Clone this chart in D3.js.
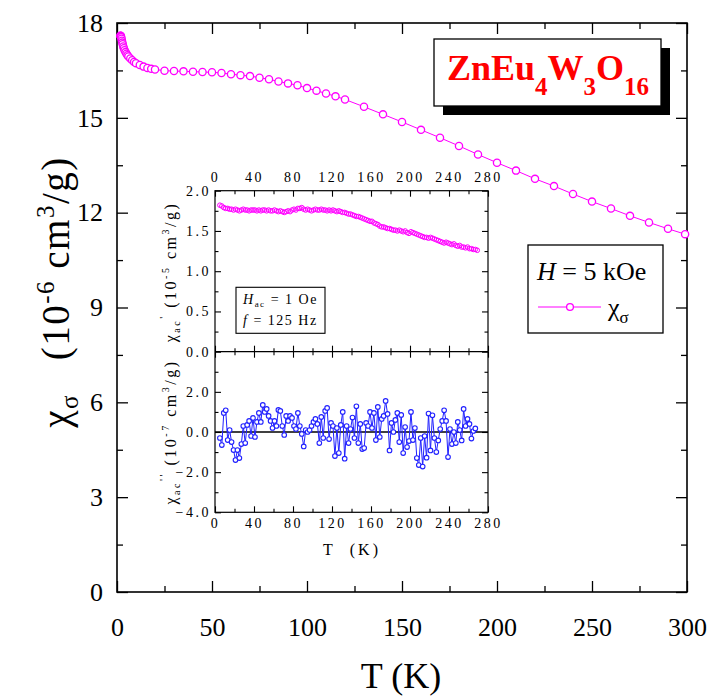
<!DOCTYPE html>
<html><head><meta charset="utf-8">
<script src="https://cdn.jsdelivr.net/npm/d3@7"></script>
<style>
body{margin:0;background:#fff}
svg{display:block}
text{font-family:"Liberation Serif","Times New Roman",serif;fill:#000}
</style>
</head><body>
<svg id="c" width="710" height="698"></svg>
<script>
// ---------- DATA ----------
const mainT = [1.8,1.9,2.0,2.1,2.2,2.4,2.6,2.8,3.0,3.3,3.6,4.0,4.5,5.0,5.5,6.0,7.0,8.0,9.0,10,12,14,16,18,
  20,25,30,35,40,45,50,55,60,65,70,75,80,85,90,95,100,105,110,115,120,
  130,140,150,160,170,180,190,200,210,220,230,240,250,260,270,280,290,299];
const mainChi = [17.60,17.60,17.59,17.57,17.55,17.50,17.44,17.38,17.33,17.26,17.20,17.14,17.08,17.03,16.98,16.94,16.88,16.82,16.77,16.73,16.67,16.62,16.58,16.55,
  16.53,16.49,16.48,16.47,16.46,16.45,16.44,16.42,16.38,16.35,16.32,16.27,16.22,16.15,16.09,16.03,15.94,15.86,15.77,15.68,15.58,
  15.35,15.11,14.87,14.62,14.37,14.11,13.84,13.58,13.33,13.07,12.84,12.59,12.35,12.13,11.90,11.69,11.49,11.32];

const acT = [5,7,9,11,13,15,17,19,21,23,25,27,29,31,33,35,37,39,41,43,45,47,49,51,53,55,57,59,61,63,65,67,69,71,73,75,77,79,81,83,85,87,89,91,93,95,97,99,
  101,103,105,107,109,111,113,115,117,119,121,123,125,127,129,131,133,135,137,139,141,143,145,147,149,151,153,155,157,159,161,163,165,167,169,171,173,175,177,179,
  181,183,185,187,189,191,193,195,197,199,201,203,205,207,209,211,213,215,217,219,221,223,225,227,229,231,233,235,237,239,241,243,245,247,249,251,253,255,257,259,261,263,265,267,269];
const acReal = [1.82,1.81,1.79,1.78,1.78,1.77,1.77,1.76,1.77,1.76,1.75,1.76,1.77,1.76,1.76,1.75,1.76,1.76,1.76,1.75,1.76,1.75,1.76,1.76,1.75,1.76,1.75,1.75,1.76,1.75,1.74,1.75,1.74,1.73,1.74,1.75,1.74,1.76,1.77,1.76,1.78,1.78,1.79,1.77,1.76,1.77,1.76,1.75,
  1.76,1.77,1.76,1.76,1.77,1.76,1.76,1.75,1.76,1.75,1.76,1.75,1.74,1.75,1.74,1.73,1.73,1.72,1.71,1.71,1.70,1.69,1.68,1.68,1.67,1.66,1.65,1.64,1.63,1.62,1.62,1.60,1.59,1.58,1.56,1.55,1.55,1.54,1.53,1.53,
  1.52,1.51,1.51,1.50,1.51,1.50,1.49,1.50,1.48,1.47,1.49,1.48,1.47,1.46,1.45,1.44,1.43,1.42,1.42,1.41,1.42,1.41,1.40,1.39,1.38,1.37,1.36,1.35,1.36,1.35,1.34,1.33,1.34,1.32,1.31,1.32,1.30,1.30,1.29,1.30,1.28,1.28,1.27,1.27,1.26];

const acT2 = [5,7,9,11,13,15,17,19,21,23,25,27,29,31,33,35,37,39,41,43,45,47,49,51,53,55,57,59,61,63,65,67,69,71,73,75,77,79,81,83,85,87,89,91,93,95,97,99,
  101,103,105,107,109,111,113,115,117,119,121,123,125,127,129,131,133,135,137,139,141,143,145,147,149,151,153,155,157,159,161,163,165,167,169,171,173,175,177,179,
  181,183,185,187,189,191,193,195,197,199,201,203,205,207,209,211,213,215,217,219,221,223,225,227,229,231,233,235,237,239,241,243,245,247,249,251,253,255,257,259,261,263,265,267];
const acImag = [-0.3,-0.65,0.95,1.08,-0.4,0.1,-0.5,-0.9,-1.4,-0.9,-1.3,-0.6,0.3,-0.55,0.35,0.55,-0.2,0.7,-0.25,0.5,0.95,0.5,1.35,1.0,1.15,0.8,0.55,0.2,0.55,0.3,1.1,1.05,0.3,-0.15,0.8,0.55,0.8,0.7,0.3,0.15,0.95,0.3,-0.1,-0.72,0.1,0.0,0.1,0.3,
  0.5,0.65,0.4,-0.55,0.75,-0.3,1.05,1.2,-0.35,0.45,0.3,-1.2,0.2,-1.05,0.35,1.0,-1.33,0.3,-0.55,0.15,0.72,-0.3,1.28,-0.55,0.4,-0.85,-0.8,0.45,0.3,1.0,0.2,0.95,-0.4,1.25,-0.25,0.65,0.8,1.55,0.9,-0.92,
  0.45,0.0,0.6,0.95,-0.5,0.85,-1.05,0.25,-0.75,-0.45,1.0,-0.4,0.2,-1.3,-1.65,-0.3,-1.72,-0.2,-1.28,0.92,-0.92,0.83,-0.3,-1.0,-0.42,0.15,0.55,1.08,0.55,-1.25,0.15,-0.6,0.0,-0.55,0.5,0.1,-0.42,1.15,0.3,0.65,0.4,-0.33,0.05,0.18];

const mainXTicks = [0,50,100,150,200,250,300];
const mainXMinor = [25,75,125,175,225,275];
const mainYTicks = [0,3,6,9,12,15,18];
const mainYMinor = [1.5,4.5,7.5,10.5,13.5,16.5];
const insetXTicks = [0,40,80,120,160,200,240,280];
const insetXMinor = [20,60,100,140,180,220,260];
const insetTopYTicks = [0.0,0.5,1.0,1.5,2.0];
const insetTopYMinor = [0.25,0.75,1.25,1.75];
const insetBotYTicks = [-4.0,-2.0,0.0,2.0];
const insetBotYMinor = [-3,-1,1,3];

// ---------- SETUP ----------
const svg = d3.select("#c");
const MAG = "#FF00FF", BLUE = "#2020FF";
const SERIF = '"Liberation Serif","Times New Roman",serif';

const x = d3.scaleLinear().domain([0,300]).range([117,687]);
const y = d3.scaleLinear().domain([0,18]).range([592,23]);

function tickAxis(gen, scale, vals, len, pad, fmt, pos, opts={}) {
  const a = gen(scale).tickValues(vals).tickSizeInner(-len).tickSizeOuter(0).tickPadding(pad)
    .tickFormat(fmt === null ? "" : fmt);
  const g = svg.append("g").attr("transform", pos).call(a).attr("font-family", SERIF);
  g.select(".domain").remove();
  g.selectAll(".tick line").attr("stroke","#000").attr("stroke-width", opts.sw || 1.3);
  g.selectAll(".tick text").attr("font-family",SERIF)
    .attr("font-size", opts.fs || 26).attr("fill","#000")
    .style("letter-spacing", opts.ls || "0px");
  return g;
}

// ---------- MAIN AXES ----------
const fmtInt = d3.format("d");
tickAxis(d3.axisBottom, x, mainXTicks, 11, 26, fmtInt, "translate(0,592)");
tickAxis(d3.axisBottom, x, mainXMinor, 6, 0, null, "translate(0,592)");
tickAxis(d3.axisTop, x, mainXTicks, 11, 0, null, "translate(0,23)");
tickAxis(d3.axisTop, x, mainXMinor, 6, 0, null, "translate(0,23)");
tickAxis(d3.axisLeft, y, mainYTicks, 11, 14, fmtInt, "translate(117,0)");
tickAxis(d3.axisLeft, y, mainYMinor, 6, 0, null, "translate(117,0)");
tickAxis(d3.axisRight, y, mainYTicks, 11, 0, null, "translate(687,0)");
tickAxis(d3.axisRight, y, mainYMinor, 6, 0, null, "translate(687,0)");

svg.append("rect").attr("x",117).attr("y",23).attr("width",570).attr("height",569)
  .attr("fill","none").attr("stroke","#000").attr("stroke-width",1.6);

// main series
const mainData = mainT.map((t,i)=>({t, v: mainChi[i]}));
svg.append("path").datum(mainData)
  .attr("d", d3.line().x(d=>x(d.t)).y(d=>y(d.v)))
  .attr("fill","none").attr("stroke",MAG).attr("stroke-width",1);
svg.append("g").selectAll("circle").data(mainData).join("circle")
  .attr("cx",d=>x(d.t)).attr("cy",d=>y(d.v)).attr("r",3.6)
  .attr("fill","#fff").attr("stroke",MAG).attr("stroke-width",1.3);

// axis titles
svg.append("text").attr("x",401).attr("y",688).attr("text-anchor","middle")
  .attr("font-size",36).text("T (K)");

const yt = svg.append("text").attr("transform","translate(69,292) rotate(-90)")
  .attr("text-anchor","middle").attr("font-size",39).style("letter-spacing","1.5px");
yt.append("tspan").text("χ");
yt.append("tspan").attr("font-size",25).attr("dy",9).text("σ");
yt.append("tspan").attr("dy",-9).text("\u00A0\u00A0\u00A0(10");
yt.append("tspan").attr("font-size",25).attr("dy",-15).text("-6");
yt.append("tspan").attr("dy",15).text("\u00A0cm");
yt.append("tspan").attr("font-size",25).attr("dy",-15).text("3");
yt.append("tspan").attr("dy",15).text("/g)");

// formula box
svg.append("rect").attr("x",443).attr("y",48).attr("width",227).attr("height",67).attr("fill","#000");
svg.append("rect").attr("x",434).attr("y",39).attr("width",227).attr("height",67)
  .attr("fill","#fff").attr("stroke","#000").attr("stroke-width",1.3);
const ft = svg.append("text").attr("x",548).attr("y",80).attr("text-anchor","middle")
  .attr("font-size",36).attr("font-weight","bold").style("fill","#FF0000");
ft.append("tspan").text("ZnEu");
ft.append("tspan").attr("font-size",25).attr("dy",15).text("4");
ft.append("tspan").attr("dy",-15).text("W");
ft.append("tspan").attr("font-size",25).attr("dy",15).text("3");
ft.append("tspan").attr("dy",-15).text("O");
ft.append("tspan").attr("font-size",25).attr("dy",15).text("16");

// legend
svg.append("rect").attr("x",528).attr("y",245).attr("width",135).attr("height",88)
  .attr("fill","#fff").attr("stroke","#000").attr("stroke-width",1.3);
const lt = svg.append("text").attr("x",537).attr("y",280).attr("font-size",26);
lt.append("tspan").attr("font-style","italic").text("H");
lt.append("tspan").text(" = 5 kOe");
svg.append("line").attr("x1",538).attr("x2",601).attr("y1",307).attr("y2",307)
  .attr("stroke",MAG).attr("stroke-width",1);
svg.append("circle").attr("cx",570).attr("cy",307).attr("r",3.4)
  .attr("fill","#fff").attr("stroke",MAG).attr("stroke-width",1.3);
const lt2 = svg.append("text").attr("x",608).attr("y",316).attr("font-size",26);
lt2.append("tspan").text("χ");
lt2.append("tspan").attr("font-size",17).attr("dy",7).text("σ");

// ---------- INSET ----------
const xi = d3.scaleLinear().domain([0,280]).range([215,488]);
const yTop = d3.scaleLinear().domain([0,2]).range([351.7,190.7]);
const yBot = d3.scaleLinear().domain([-4,4]).range([512.3,351.7]);

svg.append("rect").attr("x",215).attr("y",190.7).attr("width",273).attr("height",321.6).attr("fill","#fff");

const iopt = {fs:14, ls:"2.5px", sw:1.1};
const f1 = d3.format(".1f");
// top panel
tickAxis(d3.axisTop, xi, insetXTicks, 6, 9, fmtInt, "translate(0,190.7)", iopt);
tickAxis(d3.axisTop, xi, insetXMinor, 3.5, 0, null, "translate(0,190.7)", iopt);
tickAxis(d3.axisBottom, xi, insetXTicks, -6, 0, null, "translate(0,351.7)", iopt);
tickAxis(d3.axisBottom, xi, insetXMinor, -3.5, 0, null, "translate(0,351.7)", iopt);
tickAxis(d3.axisLeft, yTop, insetTopYTicks, 6, 4, f1, "translate(215,0)", iopt);
tickAxis(d3.axisLeft, yTop, insetTopYMinor, 3.5, 0, null, "translate(215,0)", iopt);
tickAxis(d3.axisRight, yTop, insetTopYTicks, 6, 0, null, "translate(488,0)", iopt);
tickAxis(d3.axisRight, yTop, insetTopYMinor, 3.5, 0, null, "translate(488,0)", iopt);
// bottom panel
tickAxis(d3.axisTop, xi, insetXTicks, -6, 0, null, "translate(0,351.7)", iopt);
tickAxis(d3.axisTop, xi, insetXMinor, -3.5, 0, null, "translate(0,351.7)", iopt);
tickAxis(d3.axisBottom, xi, insetXTicks, 6, 6, fmtInt, "translate(0,512.3)", iopt);
tickAxis(d3.axisBottom, xi, insetXMinor, 3.5, 0, null, "translate(0,512.3)", iopt);
tickAxis(d3.axisLeft, yBot, insetBotYTicks, 6, 4, f1, "translate(215,0)", iopt);
tickAxis(d3.axisLeft, yBot, insetBotYMinor, 3.5, 0, null, "translate(215,0)", iopt);
tickAxis(d3.axisRight, yBot, insetBotYTicks, 6, 0, null, "translate(488,0)", iopt);
tickAxis(d3.axisRight, yBot, insetBotYMinor, 3.5, 0, null, "translate(488,0)", iopt);

svg.append("rect").attr("x",215).attr("y",190.7).attr("width",273).attr("height",321.6)
  .attr("fill","none").attr("stroke","#000").attr("stroke-width",1.2);
svg.append("line").attr("x1",215).attr("x2",488).attr("y1",351.7).attr("y2",351.7)
  .attr("stroke","#000").attr("stroke-width",1.2);
// zero line
svg.append("line").attr("x1",215).attr("x2",488).attr("y1",yBot(0)).attr("y2",yBot(0))
  .attr("stroke","#000").attr("stroke-width",1.6);

// top data
const reData = acT.map((t,i)=>({t, v: acReal[i]}));
svg.append("g").selectAll("circle").data(reData).join("circle")
  .attr("cx",d=>xi(d.t)).attr("cy",d=>yTop(d.v)).attr("r",2.3)
  .attr("fill","none").attr("stroke",MAG).attr("stroke-width",1);

// bottom data
const imData = acT2.map((t,i)=>({t, v: acImag[i]}));
svg.append("path").datum(imData)
  .attr("d", d3.line().x(d=>xi(d.t)).y(d=>yBot(d.v)))
  .attr("fill","none").attr("stroke",BLUE).attr("stroke-width",1);
svg.append("g").selectAll("circle").data(imData).join("circle")
  .attr("cx",d=>xi(d.t)).attr("cy",d=>yBot(d.v)).attr("r",2.3)
  .attr("fill","#fff").attr("stroke",BLUE).attr("stroke-width",1.1);

// inset legend
svg.append("rect").attr("x",236).attr("y",287.3).attr("width",89).attr("height",46)
  .attr("fill","#fff").attr("stroke","#000").attr("stroke-width",1.1);
const il1 = svg.append("text").attr("x",243).attr("y",304).attr("font-size",14).style("letter-spacing","1.5px");
il1.append("tspan").attr("font-style","italic").text("H");
il1.append("tspan").attr("font-size",9).attr("dy",3).text("ac");
il1.append("tspan").attr("dy",-3).text(" = 1 Oe");
const il2 = svg.append("text").attr("x",243).attr("y",325).attr("font-size",14).style("letter-spacing","1.5px");
il2.append("tspan").attr("font-style","italic").text("f");
il2.append("tspan").text(" = 125 Hz");

// inset axis titles
svg.append("text").attr("x",352).attr("y",555).attr("text-anchor","middle")
  .attr("font-size",16).style("letter-spacing","3px").text("T\u00A0\u00A0(K)");

function insetYTitle(cx, cy, prime, expo) {
  const t = svg.append("text").attr("transform",`translate(${cx},${cy}) rotate(-90)`)
    .attr("text-anchor","middle").attr("font-size",16).style("letter-spacing","2.5px");
  t.append("tspan").text("χ");
  t.append("tspan").attr("font-size",10).attr("dy",4).text("ac");
  t.append("tspan").attr("font-size",11).attr("dy",-13).text(prime);
  t.append("tspan").attr("dy",9).text("\u00A0(10");
  t.append("tspan").attr("font-size",10).attr("dy",-7).text(expo);
  t.append("tspan").attr("dy",7).text("\u00A0cm");
  t.append("tspan").attr("font-size",10).attr("dy",-7).text("3");
  t.append("tspan").attr("dy",7).text("/g)");
}
insetYTitle(176, 272, "'", "-5");
insetYTitle(176, 432, "''", "-7");
</script>
</body></html>
